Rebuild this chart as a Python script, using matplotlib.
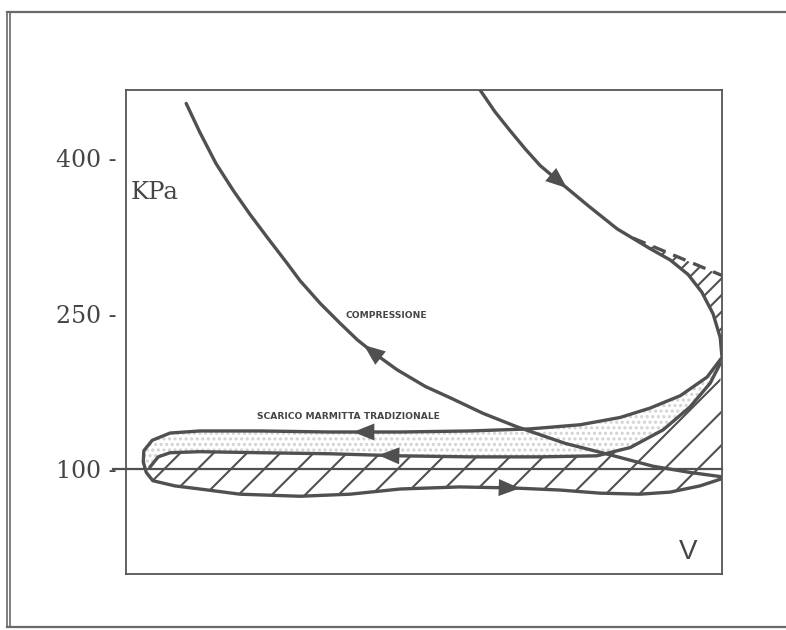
import matplotlib
matplotlib.use('Agg')
import matplotlib.pyplot as plt
import numpy as np
from matplotlib.lines import Line2D

plt.rcParams.update({
    'hatch.linewidth': 1.5,
    'font.family': 'DejaVu Sans',
})

INK = '#505050'
TEXT = '#454545'

# V in arbitrary units (0-100 across the box), p in kPa
# compression curve, from top left down to the right edge
comp_v = [10.1, 12.4, 15.1, 18.0, 20.8, 23.8, 27.0, 29.2, 32.6, 35.9, 38.8, 41.4, 45.5,
          50.2, 54.4, 59.9, 65.6, 73.7, 81.2, 88.4, 94.6, 99.7]
comp_p = [453, 425, 395, 369, 346, 323, 299, 282, 260, 241, 225, 213, 196,
          180, 169, 154, 141, 125, 114, 103, 97, 93]

# expansion curve, from the top bending into the right edge
exp_v = [59.4, 61.9, 64.4, 67.0, 69.5, 72.8, 77.4, 82.4, 87.9, 91.3, 94.3, 96.6, 98.5, 99.7, 100.0]
exp_p = [466, 445, 427, 409, 393, 377, 355, 332, 313, 302, 288, 271, 250, 227, 208]

# exhaust loop: upper branch (right -> left), lower branch (left -> right)
loop_top_v = [100.0, 97.5, 93.0, 87.9, 82.9, 76.2, 67.8, 57.7, 46.0, 34.2, 22.5, 12.4, 7.4, 4.4, 3.0, 2.9]
loop_top_p = [208, 189, 171, 159, 150, 143, 139, 137, 136, 136, 137, 137, 135, 128, 118, 107]
loop_bot_v = [3.4, 4.5, 8.2, 12.4, 19.1, 29.2, 37.6, 46.0, 56.0, 64.9, 72.8, 79.5, 86.2, 91.3, 96.3, 100.0]
loop_bot_p = [97, 89, 84, 81, 76, 74, 76, 81, 83, 82, 80, 77, 76, 78, 84, 91]

# inner branch of the loop
inner_v = [4.0, 5.4, 7.4, 12.4, 22.5, 34.2, 46.0, 57.7, 69.5, 79.0, 84.6, 90.1, 94.6, 98.0, 99.7]
inner_p = [102, 112, 116, 117, 116, 115, 113, 112, 112, 113, 121, 138, 160, 183, 202]

# dashed upper edge of the small hatched area (top right)
edge_v = [85.1, 100.0]
edge_p = [323, 287]

ticks_p = [100, 250, 400]
tick_labels = ['100 -', '250 -', '400 -']

fig = plt.figure(figsize=(7.86, 6.3), dpi=100)
ax = fig.add_axes([0.1603, 0.0889, 0.7583, 0.7683])
ax.set_xlim(0, 100)
ax.set_ylim(-1, 466)

# page border of the scan
for x in (7 / 786, 10 / 786):
    fig.add_artist(Line2D([x, x], [1 - 627 / 630, 1 - 12 / 630], color='#6a6a6a', lw=1.2))
for y in (1 - 12 / 630, 1 - 627 / 630):
    fig.add_artist(Line2D([7 / 786, 1], [y, y], color='#6a6a6a', lw=1.6))

# stippled band between the upper and inner branch
ax.fill(np.r_[loop_top_v, inner_v], np.r_[loop_top_p, inner_p],
        facecolor='none', edgecolor='#d2d2d2', hatch='...', lw=0)

# hatched area under the inner branch
ax.fill(np.r_[inner_v, loop_bot_v[::-1]], np.r_[inner_p, loop_bot_p[::-1]],
        facecolor='none', edgecolor=INK, hatch='/', lw=0)

# hatched area top right
n = 8
ax.fill(np.r_[edge_v, exp_v[n:][::-1]], np.r_[edge_p, exp_p[n:][::-1]],
        facecolor='none', edgecolor=INK, hatch='//', lw=0)
ax.plot(edge_v, edge_p, color=INK, lw=2.4, ls=(0, (4, 2.5)), solid_capstyle='butt')

ax.axhline(100, xmin=-0.022, xmax=1, color=INK, lw=1.6, clip_on=False)

kw = dict(color=INK, lw=2.4, solid_capstyle='round', solid_joinstyle='round')
ax.plot(comp_v, comp_p, **kw)
ax.plot(np.r_[exp_v, loop_top_v, loop_bot_v], np.r_[exp_p, loop_top_p, loop_bot_p], **kw)
ax.plot(inner_v, inner_p, **kw)


def head(v, p, v_tip, step):
    v = np.asarray(v, float)
    p = np.asarray(p, float)
    o = np.argsort(v)
    tip = (v_tip, np.interp(v_tip, v[o], p[o]))
    tail = (v_tip - step, np.interp(v_tip - step, v[o], p[o]))
    ax.annotate('', xy=tip, xytext=tail,
                arrowprops=dict(arrowstyle='-|>,head_length=0.85,head_width=0.34',
                                color=INK, lw=0, shrinkA=0, shrinkB=0,
                                mutation_scale=18))


head(exp_v, exp_p, 74.0, 2)
head(comp_v, comp_p, 39.9, -2)
head(loop_top_v, loop_top_p, 38.1, -2)
head(inner_v, inner_p, 42.3, -2)
head(loop_bot_v, loop_bot_p, 66.1, 2)

ax.text(43.6, 248, 'COMPRESSIONE', fontsize=6.6, fontweight='bold',
        color=TEXT, ha='center', va='center')
ax.text(37.4, 151, 'SCARICO MARMITTA TRADIZIONALE', fontsize=6.6, fontweight='bold',
        color=TEXT, ha='center', va='center')
ax.text(0.008, 0.789, 'KPa', transform=ax.transAxes, fontsize=17.5,
        family='DejaVu Serif', color=TEXT, ha='left', va='center')
ax.text(0.943, 0.045, 'V', transform=ax.transAxes, fontsize=20,
        family='Liberation Sans', color=TEXT, ha='center', va='center')

ax.set_xticks([])
ax.set_yticks(ticks_p)
ax.set_yticklabels(tick_labels, family='DejaVu Serif', fontsize=17, color=TEXT)
ax.tick_params(axis='y', length=0, pad=6.5)
for s in ax.spines.values():
    s.set_color('#555555')
    s.set_linewidth(1.3)

fig.savefig('out.png', dpi=100)
